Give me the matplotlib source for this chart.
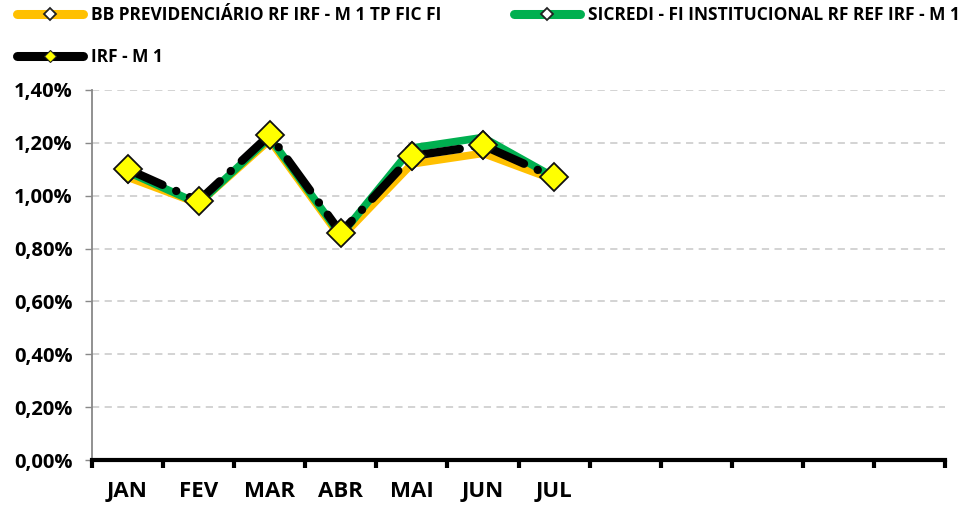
import matplotlib
matplotlib.use("Agg")
import matplotlib.pyplot as plt
from matplotlib.lines import Line2D
from matplotlib.ticker import FuncFormatter, FixedLocator, NullFormatter

plt.rcParams['font.family'] = ['Open Sans', 'DejaVu Sans']
plt.rcParams['font.weight'] = 'bold'

months = ["JAN", "FEV", "MAR", "ABR", "MAI", "JUN", "JUL", "", "", "", "", ""]
bb = [1.07, 0.97, 1.21, 0.84, 1.12, 1.16, 1.06]
sicredi = [1.09, 0.97, 1.22, 0.85, 1.18, 1.22, 1.07]
irf = [1.10, 0.98, 1.23, 0.86, 1.15, 1.19, 1.07]

names = ["BB PREVIDENCIÁRIO RF IRF - M 1 TP FIC FI",
         "SICREDI - FI INSTITUCIONAL RF REF IRF - M 1",
         "IRF - M 1"]

c_bb = "#FFC000"
c_sc = "#00B050"
c_irf = "#000000"
c_yel = "#FFFF00"

fig = plt.figure(figsize=(9.71, 5.05), dpi=100)
ax = fig.add_axes([0.0947, 0.089, 0.8786, 0.733])

x = list(range(len(bb)))
ax.plot(x, bb, color=c_bb, lw=5.5, marker='D', ms=6, mfc=c_bb, mec='#333333', mew=1.2,
        solid_joinstyle='round', zorder=3)
ax.plot(x, sicredi, color=c_sc, lw=5.5, marker='D', ms=6, mfc=c_sc, mec='#222222', mew=1.2,
        solid_joinstyle='round', zorder=4)
ax.plot(x, irf, color=c_irf, lw=6, linestyle=(0, (4.6, 1.8, 0.01, 1.8)),
        dash_capstyle='round', marker='D', ms=14, mfc=c_yel, mec='#111111', mew=1.3, zorder=5)

ax.set_xlim(-0.5, len(months) - 0.5)
ax.set_ylim(0, 1.40)
ax.yaxis.set_major_locator(FixedLocator([0, 0.2, 0.4, 0.6, 0.8, 1.0, 1.2, 1.4]))
ax.yaxis.set_major_formatter(FuncFormatter(lambda v, p: f"{v:.2f}%".replace('.', ',')))
ax.grid(axis='y', color='#D0D0D0', linestyle=(0, (4, 3)), lw=1.3)
ax.set_axisbelow(True)

ax.set_xticks([i - 0.5 for i in range(len(months) + 1)])
ax.xaxis.set_major_formatter(NullFormatter())
ax.set_xticks(range(len(months)), minor=True)
ax.set_xticklabels(months, minor=True, fontsize=16, fontweight='bold')
ax.tick_params(axis='x', which='minor', length=0, pad=15)
ax.tick_params(axis='x', which='major', length=6, width=3, color='black', direction='out')
ax.tick_params(axis='y', labelsize=14.5, length=5, color='#888888', width=1, pad=9)
for lab in ax.get_yticklabels():
    lab.set_fontweight('bold')

for s in ['top', 'right']:
    ax.spines[s].set_visible(False)
ax.spines['left'].set_color('#888888')
ax.spines['left'].set_linewidth(1.3)
ax.spines['bottom'].set_color('black')
ax.spines['bottom'].set_linewidth(3)

h_bb = Line2D([], [], color=c_bb, lw=6.5, solid_capstyle='round', marker='D', ms=6,
              mfc='white', mec='#222222', mew=1.3)
h_sc = Line2D([], [], color=c_sc, lw=6.5, solid_capstyle='round', marker='D', ms=6,
              mfc='white', mec='#222222', mew=1.3)
h_irf = Line2D([], [], color=c_irf, lw=6.5, solid_capstyle='round', marker='D', ms=6,
               mfc=c_yel, mec='#222222', mew=0.8)
fig.legend([h_bb, h_irf, h_sc], [names[0], names[2], names[1]], ncol=2,
           loc='upper left', bbox_to_anchor=(17 / 971, 1 - 6 / 505), frameon=False,
           borderpad=0, borderaxespad=0,
           prop={'size': 12.5, 'weight': 'bold'}, handlelength=3.8, handletextpad=0.45,
           columnspacing=4.2, labelspacing=1.4)

fig.savefig("out.png", dpi=100)
